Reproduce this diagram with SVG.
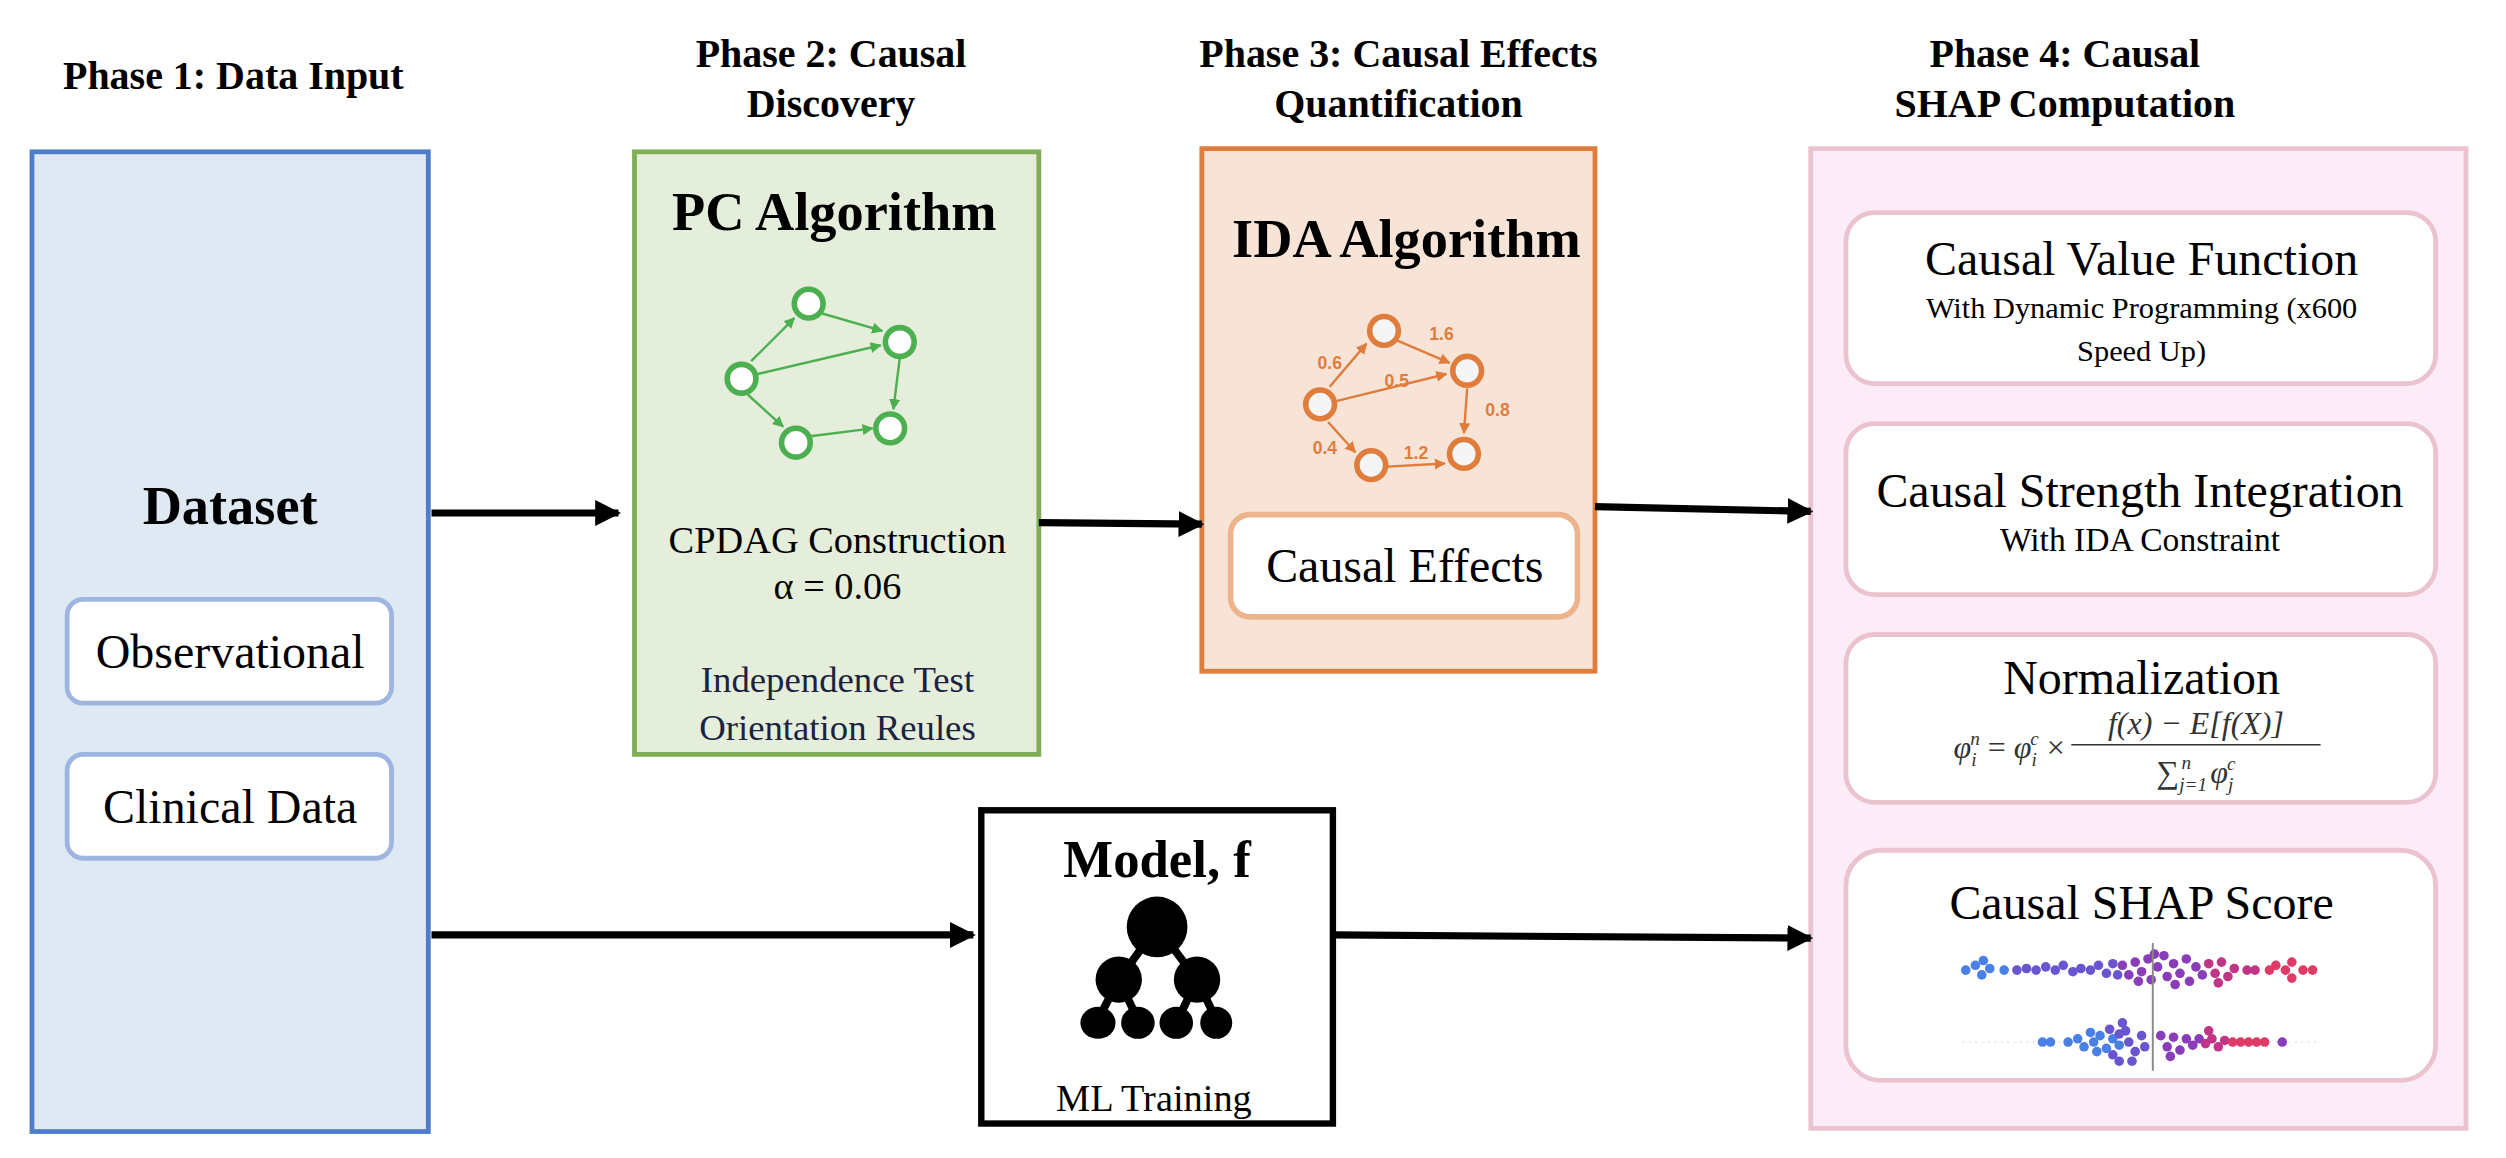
<svg xmlns="http://www.w3.org/2000/svg" width="2506" height="1158" viewBox="0 0 2506 1158">
<defs>
<style>
text{font-family:"Liberation Serif","Times New Roman",serif;fill:#000;text-anchor:middle}
.ph{font-size:25px;font-weight:bold}
.big{font-size:34px;font-weight:bold}
.mid{font-size:30px}
.sm{font-size:23px}
.sub{font-size:19px}
.gnode{fill:#fff;stroke:#4caf50;stroke-width:3.5}
.gedge{stroke:#4caf50;stroke-width:1.5;marker-end:url(#ga)}
.onode{fill:#f5f5f5;stroke:#e07d3c;stroke-width:3.5}
.oedge{stroke:#e07d3c;stroke-width:1.5;marker-end:url(#oa)}
.olab{font-family:"Liberation Sans",Arial,sans-serif;font-size:11px;font-weight:bold;fill:#e07d3c}
.conn{stroke:#000;stroke-width:4.5;fill:none;marker-end:url(#ba)}
.inner{fill:#fff;stroke:#ebc3cf;stroke-width:3}
.math{font-size:20px;font-style:italic;fill:#333}
.b{fill:#4a7fe6}.p{fill:#6a55d0}.v{fill:#8a3db8}.m{fill:#c03585}.r{fill:#e03a66}
</style>
<marker id="ba" viewBox="0 0 10 10" refX="9" refY="5" markerWidth="3.6" markerHeight="3.6" orient="auto"><path d="M0 0L10 5L0 10z" fill="#000"/></marker>
<marker id="ga" viewBox="0 0 10 10" refX="9" refY="5" markerWidth="7" markerHeight="7" orient="auto" markerUnits="userSpaceOnUse"><path d="M0 0L10 5L0 10z" fill="#4caf50"/></marker>
<marker id="oa" viewBox="0 0 10 10" refX="9" refY="5" markerWidth="7" markerHeight="7" orient="auto" markerUnits="userSpaceOnUse"><path d="M0 0L10 5L0 10z" fill="#e07d3c"/></marker>
</defs>
<rect width="2506" height="1158" fill="#fff"/>
<g transform="scale(1.5982)">
<g id="titles">
<text class="ph" x="146" y="56">Phase 1: Data Input</text>
<text class="ph" x="520" y="42">Phase 2: Causal</text>
<text class="ph" x="520" y="73">Discovery</text>
<text class="ph" x="875" y="42">Phase 3: Causal Effects</text>
<text class="ph" x="875" y="73">Quantification</text>
<text class="ph" x="1292" y="42">Phase 4: Causal</text>
<text class="ph" x="1292" y="73">SHAP Computation</text>
</g>
<g id="dataset">
<rect x="20" y="95" width="248" height="613" fill="#dfe9f3" stroke="#4f7dc9" stroke-width="3"/>
<text class="big" x="144" y="328">Dataset</text>
<rect x="42" y="375" width="203" height="65" rx="10" fill="#fff" stroke="#9db5e0" stroke-width="3"/>
<text class="mid" x="144" y="418">Observational</text>
<rect x="42" y="472" width="203" height="65" rx="10" fill="#fff" stroke="#9db5e0" stroke-width="3"/>
<text class="mid" x="144" y="515">Clinical Data</text>
</g>
<g id="pc">
<rect x="397" y="95" width="253" height="377" fill="#e5eedb" stroke="#7fae57" stroke-width="3"/>
<text class="big" x="522" y="144">PC Algorithm</text>
<line class="gedge" x1="470" y1="226" x2="497" y2="199"/>
<line class="gedge" x1="514" y1="196" x2="552" y2="207"/>
<line class="gedge" x1="474" y1="234" x2="551" y2="216"/>
<line class="gedge" x1="563" y1="224" x2="559" y2="256"/>
<line class="gedge" x1="468" y1="247" x2="490" y2="267"/>
<line class="gedge" x1="507" y1="273" x2="546" y2="268"/>
<circle class="gnode" cx="464" cy="237" r="9"/>
<circle class="gnode" cx="506" cy="190" r="9"/>
<circle class="gnode" cx="563" cy="214" r="9"/>
<circle class="gnode" cx="498" cy="277" r="9"/>
<circle class="gnode" cx="557" cy="268" r="9"/>
<text x="524" y="346" style="font-size:24px">CPDAG Construction</text>
<text x="524" y="375" style="font-size:24px">α = 0.06</text>
<text class="sm" x="524" y="433" style="fill:#1a2340">Independence Test</text>
<text class="sm" x="524" y="463" style="fill:#1a2340">Orientation Reules</text>
</g>
<g id="ida">
<rect x="752" y="93" width="246" height="327" fill="#f7e4d6" stroke="#e07d3c" stroke-width="3"/>
<text class="big" x="880" y="161">IDA Algorithm</text>
<line class="oedge" x1="832" y1="242" x2="855" y2="215"/>
<line class="oedge" x1="874" y1="213" x2="907" y2="227"/>
<line class="oedge" x1="836" y1="251" x2="905" y2="234"/>
<line class="oedge" x1="918" y1="243" x2="916" y2="271"/>
<line class="oedge" x1="831" y1="264" x2="848" y2="283"/>
<line class="oedge" x1="868" y1="292" x2="904" y2="290"/>
<circle class="onode" cx="826" cy="253" r="9"/>
<circle class="onode" cx="866" cy="207" r="9"/>
<circle class="onode" cx="918" cy="232" r="9"/>
<circle class="onode" cx="858" cy="291" r="9"/>
<circle class="onode" cx="916" cy="284" r="9"/>
<text class="olab" x="832" y="231">0.6</text>
<text class="olab" x="902" y="213">1.6</text>
<text class="olab" x="874" y="242">0.5</text>
<text class="olab" x="937" y="260">0.8</text>
<text class="olab" x="829" y="284">0.4</text>
<text class="olab" x="886" y="287">1.2</text>
<rect x="770" y="322" width="217" height="64" rx="12" fill="#fff" stroke="#edb48c" stroke-width="3.5"/>
<text class="mid" x="879" y="364">Causal Effects</text>
</g>
<g id="model">
<rect x="614" y="507" width="220" height="196" fill="#fff" stroke="#000" stroke-width="4"/>
<text class="big" x="724" y="549" style="font-size:33px">Model, f</text>
<g stroke="#000" stroke-width="5">
<line x1="724" y1="580" x2="700" y2="613"/><line x1="724" y1="580" x2="749" y2="613"/>
<line x1="700" y1="613" x2="686" y2="640"/><line x1="700" y1="613" x2="713" y2="640"/>
<line x1="749" y1="613" x2="736" y2="640"/><line x1="749" y1="613" x2="762" y2="640"/>
</g>
<circle cx="724" cy="580" r="19"/>
<circle cx="700" cy="613" r="14.5"/><circle cx="749" cy="613" r="14.5"/>
<ellipse cx="687" cy="640" rx="11" ry="10"/><ellipse cx="712" cy="640" rx="10.5" ry="10"/>
<ellipse cx="736" cy="640" rx="10.5" ry="10"/><ellipse cx="761" cy="640" rx="10" ry="10"/>
<text x="722" y="695" style="font-size:24px">ML Training</text>
</g>
<g id="causalshap">
<rect x="1133" y="93" width="410" height="613" fill="#fbecf8" stroke="#ebc3cf" stroke-width="3"/>
<rect class="inner" x="1155" y="133" width="369" height="107" rx="18"/>
<text class="mid" x="1340" y="172">Causal Value Function</text>
<text class="sub" x="1340" y="199">With Dynamic Programming (x600</text>
<text class="sub" x="1340" y="226">Speed Up)</text>
<rect class="inner" x="1155" y="265" width="369" height="107" rx="18"/>
<text class="mid" x="1339" y="317">Causal Strength Integration</text>
<text class="sub" x="1339" y="345" style="font-size:21px">With IDA Constraint</text>
<rect class="inner" x="1155" y="397" width="369" height="105" rx="18"/>
<text class="mid" x="1340" y="434">Normalization</text>
<text class="math" x="1292" y="474" style="text-anchor:end">φ<tspan style="font-size:12px" dy="5">i</tspan><tspan style="font-size:12px" dx="-4" dy="-13">n</tspan><tspan dy="8" style="font-style:normal"> = </tspan>φ<tspan style="font-size:12px" dy="5">i</tspan><tspan style="font-size:12px" dx="-4" dy="-13">c</tspan><tspan dy="8" style="font-style:normal"> ×</tspan></text>
<text class="math" x="1374" y="459">f(x) − E[f(X)]</text>
<line x1="1296" y1="466" x2="1452" y2="466" stroke="#333" stroke-width="1"/>
<text class="math" x="1374" y="490"><tspan style="font-style:normal">∑</tspan><tspan style="font-size:12px" dy="5">j=1</tspan><tspan style="font-size:12px" dx="-16" dy="-14">n</tspan><tspan dx="12" dy="9">φ</tspan><tspan style="font-size:12px" dy="5">j</tspan><tspan style="font-size:12px" dx="-4" dy="-13">c</tspan></text>
<rect class="inner" x="1155" y="532" width="369" height="144" rx="22"/>
<text class="mid" x="1340" y="575">Causal SHAP Score</text>
<g id="beeswarm">
<line x1="1228" y1="652" x2="1452" y2="652" stroke="#ddd" stroke-width="1" stroke-dasharray="1 3"/>
<g class="b">
<circle cx="1230" cy="607" r="3"/><circle cx="1236" cy="604" r="3"/><circle cx="1240" cy="610" r="3"/><circle cx="1245" cy="606" r="3"/><circle cx="1241" cy="601" r="3"/><circle cx="1254" cy="607" r="3"/>
<circle cx="1278" cy="652" r="3"/><circle cx="1283" cy="652" r="3"/><circle cx="1294" cy="652" r="3"/><circle cx="1300" cy="650" r="3"/><circle cx="1304" cy="655" r="3"/><circle cx="1310" cy="652" r="3"/><circle cx="1314" cy="648" r="3"/><circle cx="1318" cy="656" r="3"/><circle cx="1322" cy="650" r="3"/><circle cx="1326" cy="654" r="3"/><circle cx="1312" cy="658" r="3"/><circle cx="1308" cy="646" r="3"/>
</g>
<g class="p">
<circle cx="1262" cy="607" r="3"/><circle cx="1268" cy="606" r="3"/><circle cx="1274" cy="607" r="3"/><circle cx="1280" cy="605" r="3"/><circle cx="1286" cy="607" r="3"/><circle cx="1291" cy="604" r="3"/><circle cx="1297" cy="608" r="3"/><circle cx="1302" cy="606" r="3"/><circle cx="1308" cy="607" r="3"/><circle cx="1313" cy="604" r="3"/><circle cx="1318" cy="609" r="3"/><circle cx="1322" cy="603" r="3"/><circle cx="1325" cy="610" r="3"/>
<circle cx="1320" cy="644" r="3"/><circle cx="1322" cy="660" r="3"/><circle cx="1330" cy="645" r="3"/><circle cx="1332" cy="652" r="3"/><circle cx="1336" cy="658" r="3"/><circle cx="1340" cy="648" r="3"/><circle cx="1328" cy="640" r="3"/><circle cx="1326" cy="664" r="3"/><circle cx="1334" cy="664" r="3"/><circle cx="1342" cy="655" r="3"/><circle cx="1326" cy="647" r="3"/>
</g>
<g class="v">
<circle cx="1328" cy="604" r="3"/><circle cx="1332" cy="610" r="3"/><circle cx="1336" cy="602" r="3"/><circle cx="1340" cy="608" r="3"/><circle cx="1344" cy="600" r="3"/><circle cx="1346" cy="613" r="3"/><circle cx="1350" cy="605" r="3"/><circle cx="1354" cy="598" r="3"/><circle cx="1356" cy="611" r="3"/><circle cx="1360" cy="603" r="3"/><circle cx="1364" cy="609" r="3"/><circle cx="1368" cy="600" r="3"/><circle cx="1370" cy="614" r="3"/><circle cx="1374" cy="605" r="3"/><circle cx="1378" cy="610" r="3"/><circle cx="1338" cy="614" r="3"/><circle cx="1348" cy="597" r="3"/><circle cx="1361" cy="616" r="3"/>
<circle cx="1352" cy="648" r="3"/><circle cx="1356" cy="655" r="3"/><circle cx="1360" cy="649" r="3"/><circle cx="1364" cy="657" r="3"/><circle cx="1368" cy="650" r="3"/><circle cx="1372" cy="654" r="3"/><circle cx="1376" cy="650" r="3"/><circle cx="1358" cy="661" r="3"/><circle cx="1428" cy="652" r="3"/>
</g>
<g class="m">
<circle cx="1382" cy="603" r="3"/><circle cx="1386" cy="609" r="3"/><circle cx="1390" cy="602" r="3"/><circle cx="1394" cy="611" r="3"/><circle cx="1398" cy="606" r="3"/><circle cx="1388" cy="615" r="3"/><circle cx="1406" cy="607" r="3"/><circle cx="1411" cy="607" r="3"/>
<circle cx="1380" cy="653" r="3"/><circle cx="1384" cy="650" r="3"/><circle cx="1388" cy="655" r="3"/><circle cx="1392" cy="651" r="3"/><circle cx="1382" cy="645" r="3"/>
</g>
<g class="r">
<circle cx="1420" cy="607" r="3"/><circle cx="1424" cy="604" r="3"/><circle cx="1430" cy="607" r="3"/><circle cx="1434" cy="602" r="3"/><circle cx="1434" cy="612" r="3"/><circle cx="1441" cy="607" r="3"/><circle cx="1447" cy="607" r="3"/>
<circle cx="1397" cy="652" r="3"/><circle cx="1402" cy="652" r="3"/><circle cx="1407" cy="652" r="3"/><circle cx="1412" cy="652" r="3"/><circle cx="1417" cy="652" r="3"/>
</g>
<line x1="1347" y1="590" x2="1347" y2="670" stroke="#888" stroke-width="1.2"/>
</g>
</g>
<g id="connectors">
<line class="conn" x1="270" y1="321" x2="387" y2="321"/>
<line class="conn" x1="650" y1="327" x2="752" y2="328"/>
<line class="conn" x1="998" y1="317" x2="1133" y2="320"/>
<line class="conn" x1="270" y1="585" x2="609" y2="585"/>
<line class="conn" x1="834" y1="585" x2="1133" y2="587"/>
</g>
</g>
</svg>
